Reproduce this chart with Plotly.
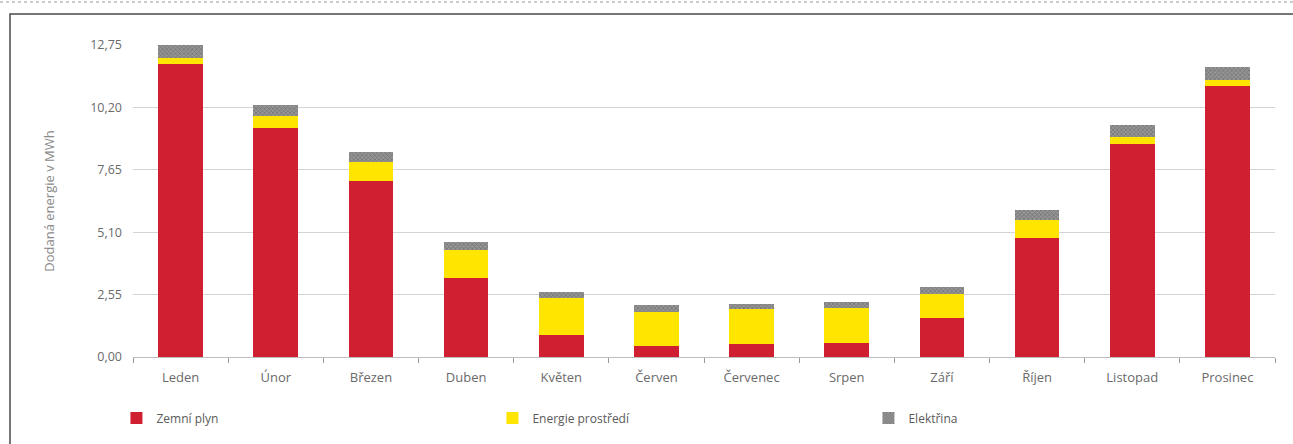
import plotly.graph_objects as go

months = ["Leden", "Únor", "Březen", "Duben", "Květen", "Červen",
          "Červenec", "Srpen", "Září", "Říjen", "Listopad", "Prosinec"]
zemni_plyn = [11.97, 9.36, 7.19, 3.23, 0.90, 0.45, 0.53, 0.57, 1.59, 4.86, 8.70, 11.07]
energie_prostredi = [0.25, 0.49, 0.78, 1.14, 1.51, 1.39, 1.43, 1.43, 0.98, 0.74, 0.29, 0.25]
elektrina = [0.53, 0.45, 0.41, 0.33, 0.25, 0.29, 0.21, 0.25, 0.29, 0.41, 0.49, 0.53]
y_ticks = [0.0, 2.55, 5.10, 7.65, 10.20, 12.75]

W, H = 1293, 444
ML, MR, MT, MB = 133, 18, 45, 87
pw, ph = W - ML - MR, H - MT - MB

fig = go.Figure()
fig.add_trace(go.Bar(x=months, y=zemni_plyn, name="Zemní plyn",
                     marker=dict(color="#d01f30", line=dict(width=0))))
fig.add_trace(go.Bar(x=months, y=energie_prostredi, name="Energie prostředí",
                     marker=dict(color="#ffe500", line=dict(width=0))))
fig.add_trace(go.Bar(x=months, y=elektrina, name="Elektřina",
                     marker=dict(color="#7e7e7e", line=dict(width=0),
                                 pattern=dict(shape="x", fgcolor="#4e4e4e",
                                              bgcolor="#959595", size=3, solidity=0.4))))

fig.update_layout(
    width=W, height=H,
    barmode="stack", bargap=0.53,
    separators=", ",
    paper_bgcolor="white", plot_bgcolor="white",
    margin=dict(l=ML, r=MR, t=MT, b=MB, pad=0),
    font=dict(family="Open Sans", size=12, color="#6a6a6a"),
    showlegend=True,
    legend=dict(orientation="h", x=-0.0145, xanchor="left", y=-61 / ph, yanchor="middle",
                entrywidth=331, entrywidthmode="pixels", traceorder="normal",
                font=dict(size=12, color="#5a5a5a"), itemclick=False),
    xaxis=dict(showline=True, linecolor="#bdbdbd", linewidth=1,
               ticks="outside", tickson="boundaries", ticklen=5, tickcolor="#9a9a9a",
               ticklabelstandoff=8,
               tickfont=dict(size=13, color="#6a6a6a"), showgrid=False),
    yaxis=dict(range=[0, 12.75], tickvals=y_ticks, tickformat=".2f",
               showgrid=True, gridcolor="#d4d4d4", gridwidth=1,
               zeroline=False, showline=False, ticks="",
               ticklabelstandoff=10,
               tickfont=dict(size=12.5, color="#6a6a6a"),
               title=dict(text="Dodaná energie v MWh", standoff=32,
                          font=dict(size=13, color="#8a8a8a"))),
)

# outer frame of the figure
fig.add_shape(type="rect", xref="paper", yref="paper",
              x0=(10 - ML) / pw, x1=(1310 - ML) / pw,
              y0=(H - 460 - MB) / ph, y1=(H - MB - 14) / ph,
              line=dict(color="#4a4a4a", width=1.5), fillcolor="rgba(0,0,0,0)", layer="below")
fig.add_shape(type="line", xref="paper", yref="paper",
              x0=-ML / pw, x1=(W - ML) / pw,
              y0=(H - MB - 2) / ph, y1=(H - MB - 2) / ph,
              line=dict(color="#9a9a9a", width=1, dash="dot"))

fig.write_html("out.html")
